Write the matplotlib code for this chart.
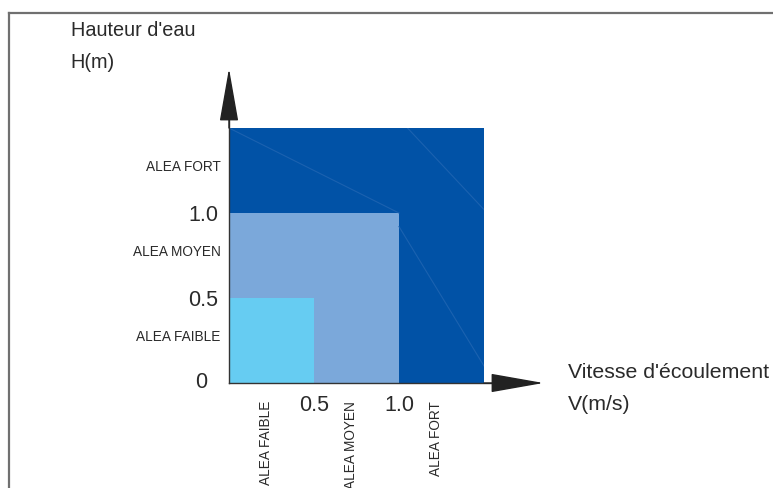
import matplotlib
matplotlib.use("Agg")
import matplotlib.pyplot as plt
from matplotlib.patches import FancyArrowPatch
from matplotlib.lines import Line2D

plt.rcParams['font.family'] = ['Liberation Sans', 'DejaVu Sans']

# ---- data ----
zones = ["ALEA FORT", "ALEA MOYEN", "ALEA FAIBLE"]
v_limits = [1.5, 1.0, 0.5]          # vitesse (m/s) upper bound of each zone
h_limits = [1.5, 1.0, 0.5]          # hauteur (m) upper bound of each zone
zone_colors = ["#0152a6", "#7ba8da", "#66ccf2"]
tick_values = [0.5, 1.0]
tick_labels = ["0.5", "1.0"]
cat_labels = ["ALEA FAIBLE", "ALEA MOYEN", "ALEA FORT"]
cat_centers = [0.25, 0.75, 1.25]
axis_end = 1.85

W, H = 773, 488
fig = plt.figure(figsize=(W / 100, H / 100), dpi=100)
fig.patch.set_facecolor("white")

px = 170.0  # pixels per unit
x0, y0 = 229, 383
ax = fig.add_axes([x0 / W, (H - y0) / H, 1.5 * px / W, 1.5 * px / H])
ax.set_xlim(0, 1.5)
ax.set_ylim(0, 1.5)
for s in ax.spines.values():
    s.set_visible(False)
ax.set_facecolor("none")

# zones (nested rectangles)
for v, h, c in zip(v_limits, h_limits, zone_colors):
    ax.bar(0, h, width=v, align="edge", color=c, edgecolor="none", zorder=1)

# faint streaks in dark zone
for (xa, ya), (xb, yb) in [((0.0, 1.5), (1.0, 1.0)),
                           ((1.0, 0.92), (1.5, 0.1)),
                           ((1.05, 1.5), (1.5, 1.02))]:
    ax.plot([xa, xb], [ya, yb], color="#1b62b0", lw=0.8, zorder=2)

# ticks
text_col = "#2a2a2a"
num_size = 15.5
ax.set_xticks(tick_values)
ax.set_xticklabels(tick_labels, fontsize=num_size, color=text_col)
ax.set_yticks(tick_values)
ax.set_yticklabels(tick_labels, fontsize=num_size, color=text_col)
ax.tick_params(axis="x", which="major", length=0, pad=8.5)
ax.tick_params(axis="y", which="major", length=0, pad=8)

ax.set_xticks([c - 0.03 for c in cat_centers], minor=True)
ax.set_xticklabels(cat_labels, minor=True, rotation=90, fontsize=9.8,
                   color=text_col, va="top")
ax.set_yticks([c + 0.03 for c in cat_centers], minor=True)
ax.set_yticklabels(cat_labels, minor=True, fontsize=9.8, color=text_col)
ax.tick_params(axis="x", which="minor", length=0, pad=13)
ax.tick_params(axis="y", which="minor", length=0, pad=6)

ax.text(-0.165, 0, "0", fontsize=num_size, color=text_col, ha="center", va="center")

# axis arrows
ax.plot([0, 0], [0, axis_end - 0.2], color="#333333", lw=1.0, clip_on=False, zorder=3)
ax.plot([0, axis_end - 0.2], [0, 0], color="#333333", lw=1.0, clip_on=False, zorder=3)
for start, end in [((0, 1.5), (0, axis_end)), ((1.5, 0), (axis_end, 0))]:
    arr = FancyArrowPatch(start, end, arrowstyle="-|>,head_length=34,head_width=6",
                          mutation_scale=1, color="#222222", lw=1.0,
                          shrinkA=0, shrinkB=0, clip_on=False, zorder=4)
    ax.add_patch(arr)

# axis titles
fig.text(71 / W, 1 - 30 / H, "Hauteur d'eau", fontsize=14.3, color=text_col,
         ha="left", va="center")
fig.text(70 / W, 1 - 62 / H, "H(m)", fontsize=14.3, color=text_col,
         ha="left", va="center")
fig.text(568 / W, 1 - 372 / H, "Vitesse d'écoulement", fontsize=15.3, color=text_col,
         ha="left", va="center")
fig.text(568 / W, 1 - 405 / H, "V(m/s)", fontsize=15.3, color=text_col,
         ha="left", va="center")

# frame (left and top)
fig.add_artist(Line2D([8.5 / W, 8.5 / W], [0, 1 - 12.5 / H], color="#707070", lw=1.6,
                      transform=fig.transFigure))
fig.add_artist(Line2D([8.5 / W, 1], [1 - 12.5 / H, 1 - 12.5 / H], color="#707070", lw=1.6,
                      transform=fig.transFigure))

fig.savefig("out.png", dpi=100)
